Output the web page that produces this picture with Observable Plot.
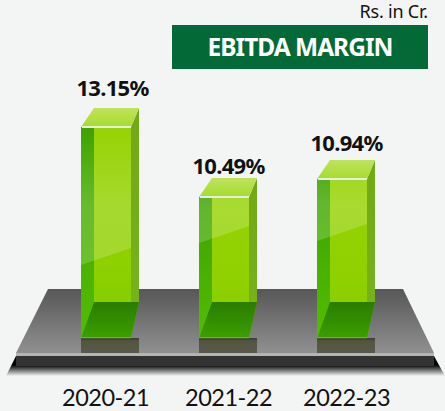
<!DOCTYPE html>
<html><head><meta charset="utf-8">
<script src="https://cdn.jsdelivr.net/npm/d3@7"></script>
<script src="https://cdn.jsdelivr.net/npm/@observablehq/plot@0.6"></script>
<style>
html,body{margin:0;padding:0;background:#f3f5f5;width:445px;height:411px;overflow:hidden;font-family:"Noto Sans",sans-serif}
#head{position:relative;height:69px}
#unit{position:absolute;right:17px;top:-1px;font-size:18px;line-height:25px;letter-spacing:-.2px;color:#111}
#title{position:absolute;left:172px;top:25px;width:256px;height:44px;background:#036936;color:#fff;font-weight:700;font-size:24.5px;line-height:44px;text-align:center;letter-spacing:-1px}
svg{display:block}
.val text{letter-spacing:-.7px}
.yr text{letter-spacing:-.5px}
</style></head><body>
<div id="head"><div id="unit">Rs. in Cr.</div><div id="title">EBITDA MARGIN</div></div>
<div id="chart"></div>
<script>
const years = ["2020-21", "2021-22", "2022-23"];
const margins = [13.15, 10.49, 10.94];
const marginLabels = ["13.15%", "10.49%", "10.94%"];

const topOffset = 69;               // svg starts under the header
const py = v => v - topOffset;      // picture y -> svg y
const rows = years.map((year, i) => ({year, margin: margins[i], label: marginLabels[i]}));

// The drawing's bar heights are not proportional to its values: this reads them as drawn.
const drawnHeight = d3.scaleLinear().domain([0, 10.49, 10.94, 13.15]).range([0, 141, 159, 211]);

const NS = "http://www.w3.org/2000/svg";
const el = (name, attrs, parent) => {
  const n = document.createElementNS(NS, name);
  for (const k in attrs) n.setAttribute(k, attrs[k]);
  if (parent) parent.appendChild(n);
  return n;
};
const poly = (parent, pts, fill, extra = {}) =>
  el("polygon", {points: pts.map(p => p.join(",")).join(" "), fill, ...extra}, parent);

function defs() {
  const d = el("defs", {});
  const grad = (id, stops, attrs = {}) => {
    const g = el("linearGradient", {id, x1: 0, y1: 0, x2: 0, y2: 1, ...attrs}, d);
    stops.forEach(([o, c, a]) => el("stop", {offset: o, "stop-color": c, "stop-opacity": a ?? 1}, g));
  };
  grad("plate", [[0, "#575757"], [1, "#909090"]]);
  grad("drop", [[0, "#000"], [.45, "#000"], [1, "#000", 0]]);
  grad("front", [[0, "#97d305"], [.6, "#90d000"], [1, "#7fcf00"]]);
  grad("left", [[0, "#3ea300"], [1, "#52bc00"]]);
  grad("right", [[0, "#72a816"], [1, "#78b41c"]]);
  grad("floor", [[0, "#2a7c00"], [1, "#3c9f00"]]);
  grad("cap", [[0, "#bfe25e"], [1, "#a6dc2c"]]);
  grad("gloss", [[0, "#fff", 0], [1, "#fff", .18]],
       {gradientUnits: "userSpaceOnUse", x1: 0, x2: 0, y1: py(130), y2: py(205)});
  grad("under", [[0, "#3a3a2e"], [.2, "#545540"], [1, "#58594a"]]);
  return d;
}

function platform() {
  const g = el("g", {});
  poly(g, [[16, 356], [6, 376], [445, 376], [434, 356]].map(([x, y]) => [x, py(y)]), "url(#drop)");
  poly(g, [[48, 289], [403, 289], [434, 353], [16, 353]].map(([x, y]) => [x, py(y)]), "url(#plate)");
  el("rect", {x: 16, y: py(353), width: 418, height: 3, fill: "#b4b4b4"}, g);
  el("rect", {x: 16, y: py(356), width: 418, height: 10, fill: "#333"}, g);
  return g;
}

// picture y at which the gloss ends on the left edge of each bar
const glossEdge = {"2020-21": 265, "2021-22": 243, "2022-23": 241};

const baseY = 338, backY = 302, run = 13, side = 8, rise = 19;

function shadows(index, {x}) {
  const g = el("g", {});
  rows.forEach(r => {
    el("rect", {x: x(r.year), y: py(baseY), width: x.bandwidth() + side, height: 15, fill: "url(#under)"}, g);
  });
  return g;
}

function drawFaces(index, scales, values) {
  const g = el("g", {});
  const w = scales.x.bandwidth();
  for (const i of index) {
    const r = rows[i];
    const x0 = values.x[i], x1 = x0 + w, top = Math.min(values.y1[i], values.y2[i]);
    const by = py(baseY), wy = py(backY);
    poly(g, [[x0, top], [x0 + run, top], [x0 + run, wy], [x0, by]], "url(#left)");
    poly(g, [[x1, top], [x1 + side, top - rise], [x1 + side, wy], [x1, by]], "url(#right)");
    const e = py(glossEdge[r.year]);
    poly(g, [[x0, top], [x1, top], [x1, e - 17], [x0, e]], "url(#gloss)");
    poly(g, [[x0, by], [x1, by], [x1 + side, wy], [x0 + run, wy]], "url(#floor)");
    el("rect", {x: x0, y: by - 1, width: w, height: 1.2, fill: "#62c400"}, g);
    poly(g, [[x0, top], [x0 + run, top - rise], [x1 + side, top - rise], [x1, top]], "url(#cap)");
    el("rect", {x: x0 + 1, y: top - 1, width: w - 1, height: 2, fill: "#e8ece6"}, g);
  }
  return g;
}

const valueNudge = {"2020-21": [6, -32], "2021-22": [4, -24], "2022-23": [4, -29]};
const yearNudge = {"2020-21": -1, "2021-22": 4, "2022-23": 4};

const plot = Plot.plot({
  width: 445,
  height: 342,
  margin: 0,
  style: {background: "transparent", fontFamily: '"Noto Sans", sans-serif', overflow: "visible"},
  x: {type: "band", domain: years, range: [11, 437], padding: 0.58, axis: null},
  y: {transform: drawnHeight, domain: [0, 211], range: [py(338), py(127)], axis: null},
  marks: [
    defs,
    platform,
    shadows,
    Plot.barY(rows, {x: "year", y: "margin", fill: "url(#front)"}),
    Plot.barY(rows, {x: "year", y: "margin", fill: "none", render: drawFaces}),
    ...rows.map(r => Plot.text([r], {
      x: "year", y: "margin", text: "label", className: "val",
      dx: valueNudge[r.year][0], dy: valueNudge[r.year][1],
      fontSize: 22, fontWeight: 700, fill: "#111", textAnchor: "middle", lineAnchor: "bottom"
    })),
    ...rows.map(r => Plot.text([r], {
      x: "year", text: "year", className: "yr", frameAnchor: "bottom", dx: yearNudge[r.year], dy: -6,
      fontFamily: "Lato", fontSize: 23.5, fill: "#111", textAnchor: "middle", lineAnchor: "bottom"
    }))
  ]
});
document.getElementById("chart").appendChild(plot);
</script>
</body></html>
